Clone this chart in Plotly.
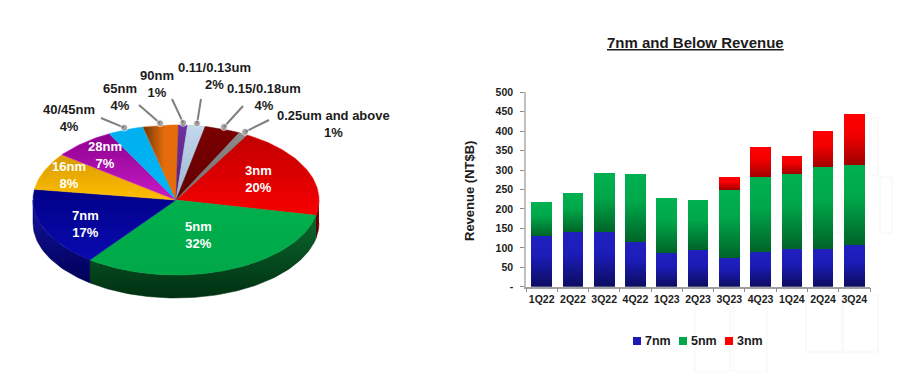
import math
import plotly.graph_objects as go

# ---------- pie data ----------
pie_labels = ["3nm", "5nm", "7nm", "16nm", "28nm", "40/45nm", "65nm", "90nm",
              "0.11/0.13um", "0.15/0.18um", "0.25um and above"]
pie_shares = [20, 32, 17, 8, 7, 4, 4, 1, 2, 4, 1]
pie_start_angle = 29.8

# ---------- bar data ----------
quarters = ["1Q22", "2Q22", "3Q22", "4Q22", "1Q23", "2Q23", "3Q23", "4Q23", "1Q24", "2Q24", "3Q24"]
rev_7nm = [130, 140, 140, 116, 87, 95, 75, 90, 98, 98, 107]
rev_5nm = [88, 102, 152, 173, 140, 129, 174, 191, 192, 209, 207]
rev_3nm = [0, 0, 0, 0, 0, 0, 32, 79, 47, 94, 131]

W, H = 900, 372
CX, CY, RX, RY, DEPTH = 176, 200, 143, 75, 23
INK = "#1c1c1c"
FONT = "Liberation Sans"

# (top gradient start, end), (wall start, end)
pie_styles = {
    "3nm": (("#c00000", "#f80000"), ("#8a0000", "#500000")),
    "5nm": (("#00b04c", "#00a848"), ("#0b6a2e", "#003012")),
    "7nm": (("#000088", "#0a0ab0"), ("#1414a0", "#000058")),
    "16nm": (("#d89a00", "#ffbe00"), ("#a07000", "#604000")),
    "28nm": (("#8c008c", "#c81cc8"), ("#600060", "#400040")),
    "40/45nm": (("#00b0f0", "#00b4f4"), ("#006090", "#004060")),
    "65nm": (("#6e3404", "#e46c0a", "h"), ("#804000", "#503000")),
    "90nm": (("#7030a0", "#54207c"), ("#402060", "#301848")),
    "0.11/0.13um": (("#c4d8ee", "#9ab4d0"), ("#708090", "#506070")),
    "0.15/0.18um": (("#7c0000", "#600000"), ("#400000", "#300000")),
    "0.25um and above": (("#8c8c8c", "#6c6c6c"), ("#606060", "#404040")),
}

# label centres and leader ends, in page pixels
outer_text = {
    "40/45nm": (69, 118), "65nm": (120, 97), "90nm": (157, 84),
    "0.11/0.13um": (214, 76), "0.15/0.18um": (264, 97), "0.25um and above": (333, 124),
}
leader_end = {
    "40/45nm": (101, 118), "65nm": (139, 105), "90nm": (172, 99),
    "0.11/0.13um": (201, 99), "0.15/0.18um": (243, 106), "0.25um and above": (269, 120),
}
inner_text = {"3nm": (258, 179), "5nm": (198, 235), "7nm": (85, 224), "16nm": (69, 175), "28nm": (105, 155)}
# faint ghost outlines behind the bar chart
ghost_boxes = [(806, 177, 842, 233), (880, 177, 892, 233), (843, 295, 878, 352), (806, 295, 842, 352),
               (695, 295, 730, 372), (733, 295, 767, 372), (870, 118, 878, 175)]


def px(x):
    return x / W


def py(y):
    return 1 - y / H


def ux(x):
    return (x - CX) / RX


def uy(y):
    return (CY - y) / RY


def arc(a0, a1, n=None):
    n = n or max(2, int(abs(a1 - a0) / 1.5) + 2)
    angs = [a0 + (a1 - a0) * i / (n - 1) for i in range(n)]
    return [math.sin(math.radians(a)) for a in angs], [math.cos(math.radians(a)) for a in angs]


fig = go.Figure()
grads = []  # per-fill gradient, in trace order

# slice angle bounds come from the shares
bounds, a = [], pie_start_angle
for s in pie_shares:
    bounds.append((a, a + s * 3.6))
    a += s * 3.6

d_u = DEPTH / RY
for lab, (a0, a1) in zip(pie_labels, bounds):
    lo, hi = max(a0, 90), min(a1, 270)
    if hi > lo:
        xs, ys = arc(lo, hi)
        fig.add_trace(go.Scatter(
            x=xs + xs[::-1], y=ys + [v - d_u for v in ys[::-1]],
            fill="toself", mode="lines", line=dict(width=0.5, color=pie_styles[lab][1][1]),
            fillcolor=pie_styles[lab][1][0], hoverinfo="skip", showlegend=False))
        grads.append(pie_styles[lab][1])

for lab, (a0, a1) in zip(pie_labels, bounds):
    xs, ys = arc(a0, a1)
    fig.add_trace(go.Scatter(
        x=[0] + xs + [0], y=[0] + ys + [0],
        fill="toself", mode="lines", line=dict(width=0.5, color=pie_styles[lab][0][1]),
        fillcolor=pie_styles[lab][0][1], hoverinfo="skip", showlegend=False))
    grads.append(pie_styles[lab][0])

# leader lines with dots on the pie rim
for lab, (a0, a1) in zip(pie_labels, bounds):
    if lab in leader_end:
        mid = math.radians((a0 + a1) / 2)
        ex, ey = leader_end[lab]
        fig.add_trace(go.Scatter(
            x=[1.03 * math.sin(mid), ux(ex)], y=[1.03 * math.cos(mid), uy(ey)],
            mode="lines+markers", line=dict(color="#7f7f7f", width=2),
            marker=dict(size=[7, 0], color="#7f7f7f"), hoverinfo="skip", showlegend=False))

# stacked bars
bar_series = [("7nm", rev_7nm, "#1c1cb4"), ("5nm", rev_5nm, "#00a84a"), ("3nm", rev_3nm, "#ff0000")]
for name, vals, col in bar_series:
    fig.add_trace(go.Bar(x=quarters, y=vals, name=name, marker=dict(color=col, line_width=0),
                         xaxis="x2", yaxis="y2", showlegend=False))

# text
for lab, share in zip(pie_labels, pie_shares):
    if lab in outer_text:
        x, y = outer_text[lab]
        c = INK
    else:
        x, y = inner_text[lab]
        c = "white"
    fig.add_annotation(x=px(x), y=py(y), xref="paper", yref="paper", showarrow=False,
                       xanchor="center", yanchor="middle",
                       text=f"<b>{lab}<br>{share}%</b>", align="center",
                       font=dict(family=FONT, size=13, color=c))

fig.add_annotation(x=px(695), y=py(42), xref="paper", yref="paper", showarrow=False,
                   xanchor="center", yanchor="middle",
                   text="<b>7nm and Below Revenue</b>",
                   font=dict(family=FONT, size=15, color=INK, lineposition="under"))

fig.add_annotation(x=px(469), y=py(191), xref="paper", yref="paper", showarrow=False,
                   xanchor="center", yanchor="middle", textangle=-90,
                   text="<b>Revenue (NT$B)</b>", font=dict(family=FONT, size=13, color=INK))

# compact legend
for (name, vals, col), lx in zip(bar_series, [637, 683, 729]):
    fig.add_shape(type="rect", xref="paper", yref="paper", x0=px(lx - 4), x1=px(lx + 4),
                  y0=py(345), y1=py(337), fillcolor=col, line_width=0)
    fig.add_annotation(x=px(lx + 6), y=py(341), xref="paper", yref="paper", xanchor="left",
                       yanchor="middle", showarrow=False,
                       text=f"<b>{name}</b>", font=dict(family=FONT, size=12.5, color=INK))

for x0, y0, x1, y1 in ghost_boxes:
    fig.add_shape(type="rect", xref="paper", yref="paper", layer="below",
                  x0=px(x0), x1=px(x1), y0=py(y1), y1=py(y0),
                  line=dict(color="#f5f5f5", width=1), fillcolor="rgba(0,0,0,0)")

axis_tick = dict(family=FONT, size=10.5, color=INK, weight="bold")
fig.update_layout(
    width=W, height=H, margin=dict(l=0, r=0, t=0, b=0, pad=0, autoexpand=False),
    paper_bgcolor="white", plot_bgcolor="rgba(0,0,0,0)", barmode="stack", bargap=0.34,
    xaxis=dict(domain=[0, 0.5], range=[ux(0), ux(450)], visible=False, fixedrange=True, automargin=False),
    yaxis=dict(domain=[0, 1], range=[uy(372), uy(0)], visible=False, fixedrange=True, automargin=False),
    xaxis2=dict(domain=[px(526), px(870)], anchor="y2", type="category", tickson="boundaries",
                ticks="outside", ticklen=4, tickcolor="#8c8c8c", linecolor="#a0a0a0", linewidth=1.5,
                showgrid=False, tickangle=0, tickfont=axis_tick, automargin=False, ticklabelstandoff=2),
    yaxis2=dict(domain=[py(286.7), py(92.3)], anchor="x2", range=[0, 500],
                tickvals=list(range(0, 501, 50)),
                ticktext=["-"] + [str(v) for v in range(50, 501, 50)],
                ticks="outside", ticklen=4, tickcolor="#8c8c8c", linecolor="#c0c0c0", linewidth=1.5,
                showgrid=False, zeroline=False, tickfont=axis_tick, automargin=False, ticklabelstandoff=5),
)

bar_grads = [("#2020c0", "#1c1cb8", "#0c0c60"), ("#00b050", "#00a84a", "#006428"), ("#ff0000", "#f40000", "#a00000")]
js_pie = str([list(g) for g in grads])
js_bar = str([list(g) for g in bar_grads])
post = """
document.body.style.margin = '0';
document.documentElement.style.overflow = 'hidden';
var gd = document.querySelector('.js-plotly-plot');
var svg = gd.querySelector('.main-svg');
var NS = 'http://www.w3.org/2000/svg';
var defs = document.createElementNS(NS, 'defs');
svg.insertBefore(defs, svg.firstChild);
function grad(id, spec) {
  var horizontal = spec[spec.length - 1] === 'h';
  var cols = horizontal ? spec.slice(0, -1) : spec;
  var g = document.createElementNS(NS, 'linearGradient');
  g.setAttribute('id', id); g.setAttribute('x1', '0'); g.setAttribute('y1', '0');
  g.setAttribute('x2', horizontal ? '0.6' : '0'); g.setAttribute('y2', horizontal ? '0' : '1');
  cols.forEach(function (c, i) {
    var s = document.createElementNS(NS, 'stop');
    s.setAttribute('offset', cols.length === 3 ? [0, 0.4, 1][i] : i);
    s.setAttribute('stop-color', c); g.appendChild(s);
  });
  defs.appendChild(g);
  return 'url(#' + id + ')';
}
var pie = %s, bar = %s;
var fills = gd.querySelectorAll('.scatterlayer .trace .js-fill');
pie.forEach(function (c, i) { if (fills[i]) fills[i].style.fill = grad('pg' + i, c); });
var bt = gd.querySelectorAll('.barlayer .trace');
bar.forEach(function (c, i) {
  var u = grad('bg' + i, c);
  if (bt[i]) bt[i].querySelectorAll('path').forEach(function (p) { p.style.fill = u; });
});
""" % (js_pie, js_bar)

fig.write_html("out.html", post_script=post, config={"displayModeBar": False})
